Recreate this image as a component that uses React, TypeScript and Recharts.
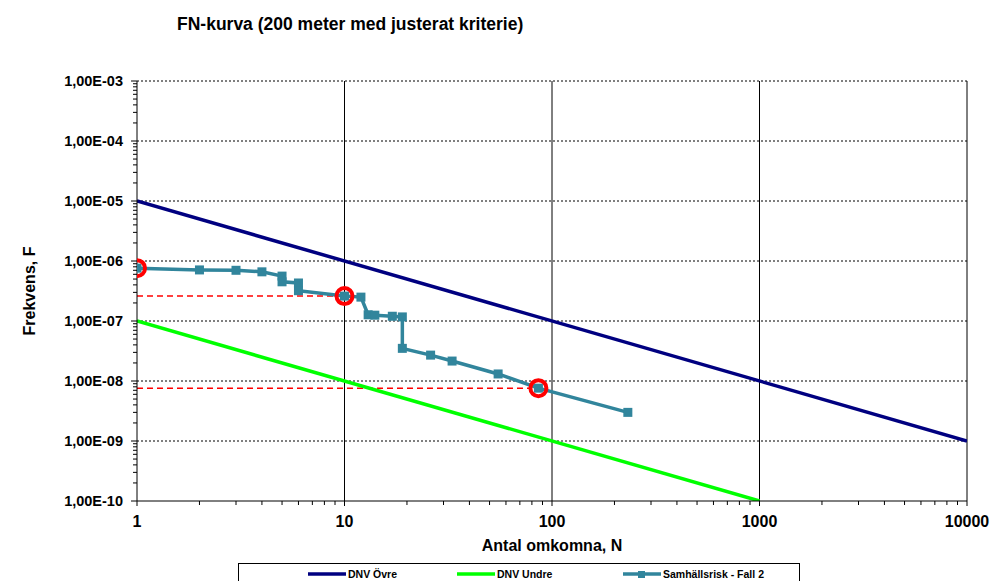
import React from 'react';
import { ComposedChart, Line, Scatter, XAxis, YAxis, ReferenceLine } from 'recharts';

// ---- data ----
const dnvOvreN = [1, 10000];
const dnvOvreF = [1e-5, 1e-9];
const dnvUndreN = [1, 1000];
const dnvUndreF = [1e-7, 1e-10];

const riskN = [1, 2, 3, 4, 5, 5, 6, 6, 10, 12, 13, 14, 17, 19, 19, 26, 33, 55, 86, 232];
const riskF = [7.6e-7, 7.1e-7, 7.0e-7, 6.6e-7, 5.6e-7, 4.5e-7, 4.3e-7, 3.2e-7, 2.6e-7, 2.5e-7, 1.27e-7, 1.25e-7, 1.2e-7, 1.17e-7, 3.5e-8, 2.7e-8, 2.15e-8, 1.31e-8, 7.6e-9, 3.0e-9];

const markN = [1, 10, 86];
const markF = [7.6e-7, 2.6e-7, 7.6e-9];

const dash1N = [1, 9];
const dash1F = [2.6e-7, 2.6e-7];
const dash2N = [1, 78];
const dash2F = [7.6e-9, 7.6e-9];

const xMajor = [1, 10, 100, 1000, 10000];
const yMajor = [1e-10, 1e-9, 1e-8, 1e-7, 1e-6, 1e-5, 1e-4, 1e-3];
const minorK = [2, 3, 4, 5, 6, 7, 8, 9];

const xTicks: number[] = [];
xMajor.forEach((m, i) => {
  xTicks.push(m);
  if (i < xMajor.length - 1) minorK.forEach((k) => xTicks.push(k * m));
});
const yTicks: number[] = [];
yMajor.forEach((m, i) => {
  yTicks.push(m);
  if (i < yMajor.length - 1) minorK.forEach((k) => yTicks.push(k * m));
});

const zip = (n: number[], f: number[]) => n.map((v, i) => ({ N: v, F: f[i] }));
const ovreData = zip(dnvOvreN, dnvOvreF);
const undreData = zip(dnvUndreN, dnvUndreF);
const riskData = zip(riskN, riskF);
const markData = zip(markN, markF);
const dash1Data = zip(dash1N, dash1F);
const dash2Data = zip(dash2N, dash2F);

const isMajor = (v: number) => Math.abs(Math.log10(v) - Math.round(Math.log10(v))) < 1e-6;
const fmtY = (v: number) => {
  const e = Math.round(Math.log10(v));
  return `1,00E-${String(-e).padStart(2, '0')}`;
};

const FONT = '"Liberation Sans", Arial, sans-serif';
const TEAL = '#31859C';

const YTick = (props: any) => {
  const { x, y, payload } = props;
  const major = isMajor(payload.value);
  return (
    <g>
      <line x1={x - (major ? 6 : 4)} x2={x} y1={y} y2={y} stroke="#000" strokeWidth={1} />
      {major && (
        <text x={x - 14} y={y} dy={5} textAnchor="end" fontFamily={FONT} fontWeight="bold" fontSize={14.5} fill="#000">
          {fmtY(payload.value)}
        </text>
      )}
    </g>
  );
};

const XTick = (props: any) => {
  const { x, y, payload } = props;
  const major = isMajor(payload.value);
  return (
    <g>
      <line x1={x} x2={x} y1={y} y2={y + (major ? 5 : 4)} stroke="#000" strokeWidth={1} />
      {major && (
        <text x={x} y={y} dy={26} textAnchor="middle" fontFamily={FONT} fontWeight="bold" fontSize={16} fill="#000">
          {String(payload.value)}
        </text>
      )}
    </g>
  );
};

const SquareDot = (props: any) => {
  const { cx, cy } = props;
  if (cx == null || cy == null) return <g />;
  return <rect x={cx - 4.5} y={cy - 4.5} width={9} height={9} fill={TEAL} />;
};

const RedCircle = (props: any) => {
  const { cx, cy } = props;
  return <circle cx={cx} cy={cy} r={8} fill="none" stroke="#FF0000" strokeWidth={4} />;
};

const LegendItem = ({ color, label, marker, left }: { color: string; label: string; marker?: boolean; left: number }) => (
  <div style={{ position: 'absolute', left, top: 0, height: 18, display: 'flex', alignItems: 'center' }}>
    <svg width={40} height={10} style={{ display: 'block' }}>
      <line x1={0} x2={38} y1={5} y2={5} stroke={color} strokeWidth={3.5} />
      {marker && <rect x={15} y={2} width={7} height={7} fill={color} />}
    </svg>
    <span style={{ fontFamily: FONT, fontWeight: 'bold', fontSize: 10.5, color: '#000', whiteSpace: 'nowrap' }}>{label}</span>
  </div>
);

export default function App() {
  return (
    <div style={{ position: 'absolute', left: 0, top: 0, width: 999, height: 581, background: '#fff', overflow: 'hidden' }}>
      <div
        style={{
          position: 'absolute', left: 177, top: 14, fontFamily: FONT, fontWeight: 'bold', fontSize: 17.5,
          lineHeight: '20px', color: '#000', whiteSpace: 'nowrap',
        }}
      >
        FN-kurva (200 meter med justerat kriterie)
      </div>
      <ComposedChart width={999} height={581} margin={{ top: 81, right: 32, bottom: 50, left: 0 }}>
        <XAxis
          dataKey="N"
          type="number"
          scale="log"
          domain={[1, 10000]}
          ticks={xTicks}
          interval={0}
          allowDataOverflow
          tickSize={0}
          tickMargin={0}
          height={30}
          stroke="#000"
          tick={<XTick />}
        />
        <YAxis
          dataKey="F"
          type="number"
          scale="log"
          domain={[1e-10, 1e-3]}
          ticks={yTicks}
          interval={0}
          allowDataOverflow
          tickSize={0}
          tickMargin={0}
          width={137}
          stroke="#000"
          tick={<YTick />}
        />
        {yMajor.slice(1).map((v) => (
          <ReferenceLine key={'h' + v} y={v} stroke="#000" strokeDasharray="2 2" strokeWidth={1} />
        ))}
        {xMajor.slice(1, 4).map((v) => (
          <ReferenceLine key={'v' + v} x={v} stroke="#000" strokeWidth={1} />
        ))}
        <ReferenceLine x={10000} stroke="#000" strokeWidth={1} />
        <Line data={dash1Data} dataKey="F" stroke="#FF0000" strokeWidth={1.5} strokeDasharray="6 4" dot={false} isAnimationActive={false} legendType="none" />
        <Line data={dash2Data} dataKey="F" stroke="#FF0000" strokeWidth={1.5} strokeDasharray="6 4" dot={false} isAnimationActive={false} legendType="none" />
        <Line data={ovreData} dataKey="F" name="DNV Övre" stroke="#000080" strokeWidth={3.5} dot={false} isAnimationActive={false} />
        <Line data={undreData} dataKey="F" name="DNV Undre" stroke="#00FF00" strokeWidth={3.5} dot={false} isAnimationActive={false} />
        <Line data={riskData} dataKey="F" name="Samhällsrisk - Fall 2" stroke={TEAL} strokeWidth={3.5} dot={<SquareDot />} isAnimationActive={false} />
        <Scatter data={markData} dataKey="F" shape={<RedCircle />} isAnimationActive={false} legendType="none" />
      </ComposedChart>
      <div
        style={{
          position: 'absolute', left: 0, top: 281, width: 60, height: 20, lineHeight: '20px', textAlign: 'center',
          fontFamily: FONT, fontWeight: 'bold', fontSize: 16, color: '#000', whiteSpace: 'nowrap',
          transform: 'rotate(-90deg)', overflow: 'visible', display: 'flex', justifyContent: 'center',
        }}
      >
        Frekvens, F
      </div>
      <div
        style={{
          position: 'absolute', left: 352, width: 400, top: 536, lineHeight: '20px', textAlign: 'center',
          fontFamily: FONT, fontWeight: 'bold', fontSize: 16, color: '#000',
        }}
      >
        Antal omkomna, N
      </div>
      <div style={{ position: 'absolute', left: 238, top: 563, width: 562, height: 30, border: '1px solid #000', boxSizing: 'border-box' }}>
        <div style={{ position: 'absolute', left: 0, top: 1, width: '100%', height: 18 }}>
          <LegendItem left={69} color="#000080" label="DNV Övre" />
          <LegendItem left={218} color="#00FF00" label="DNV Undre" />
          <LegendItem left={384} color={TEAL} label="Samhällsrisk - Fall 2" marker />
        </div>
      </div>
    </div>
  );
}
